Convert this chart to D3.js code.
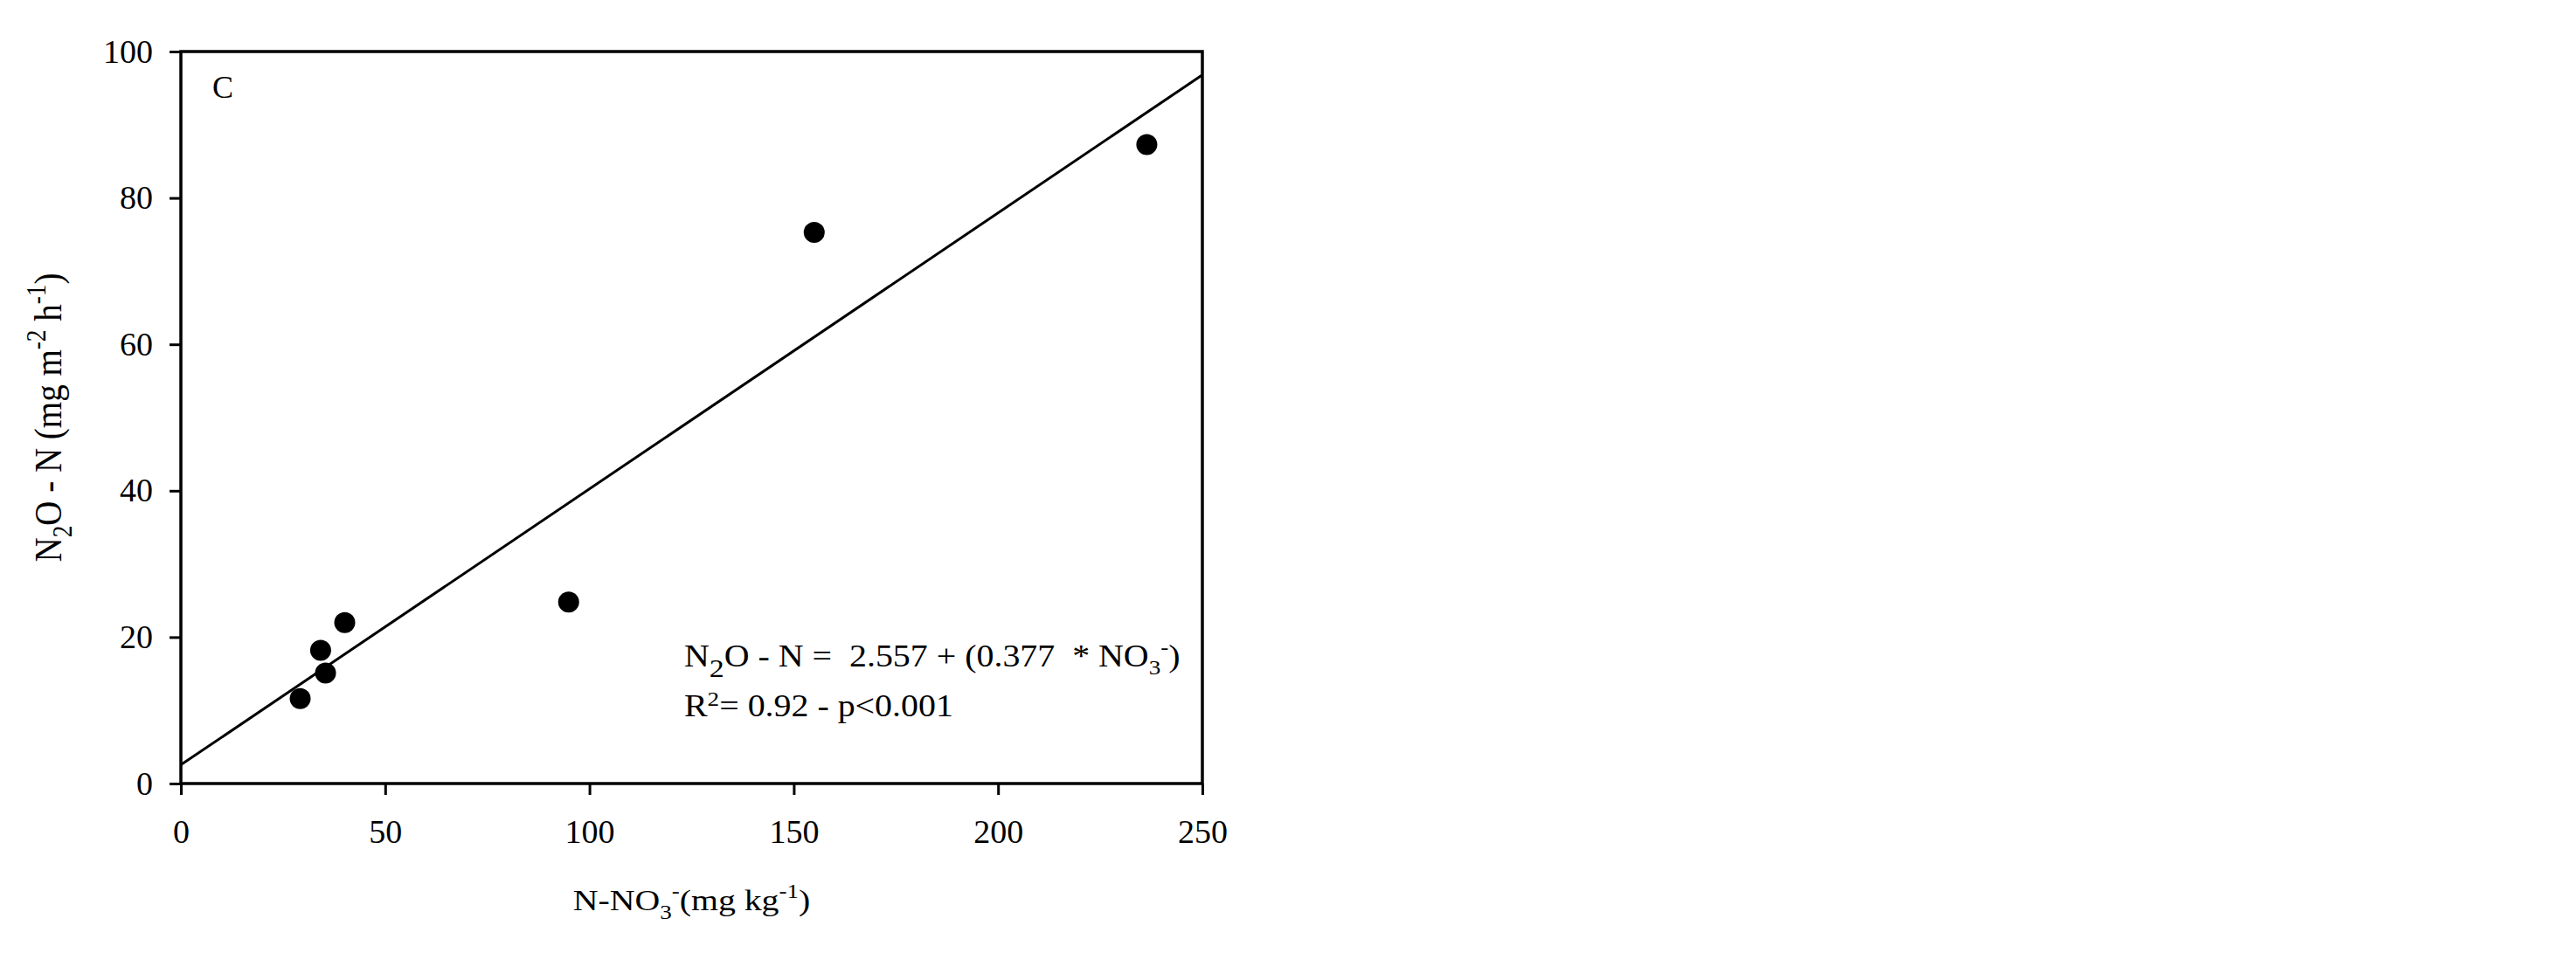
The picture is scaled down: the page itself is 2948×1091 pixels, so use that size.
<!DOCTYPE html>
<html>
<head>
<meta charset="utf-8">
<script src="https://cdn.jsdelivr.net/npm/d3@7"></script>
<style>
body { margin: 0; background: #fff; }
svg { display: block; }
.chart text { font-family: "Liberation Serif", "Times New Roman", serif; fill: #000; white-space: pre; }
.axis path, .axis line { stroke: #000; stroke-width: 3px; }
.axis text { font-size: 38px; }
</style>
</head>
<body>
<div id="chart"></div>
<script>
// N-NO3 (mg kg-1) vs N2O-N flux (mg m-2 h-1), panel C
var no3 = [29.2, 34.2, 35.4, 40.1, 94.9, 155.0, 236.4];
var n2o = [11.6, 18.2, 15.1, 22.0, 24.8, 75.3, 87.3];

var xTicks = [0, 50, 100, 150, 200, 250];
var yTicks = [0, 20, 40, 60, 80, 100];

// regression from the figure
var fitIntercept = 2.557;
var fitSlope = 0.377;

( function() {
  var W = 2948, H = 1091;
  var left = 207, right = 1376, top = 59, bottom = 897;

  var svg = d3.select( "#chart" ).append( "svg" )
              .attr( "class", "chart" )
              .attr( "width", W )
              .attr( "height", H );

  var x = d3.scaleLinear().domain( [0, 250] ).range( [left, right] );
  var y = d3.scaleLinear().domain( [0, 100] ).range( [bottom, top] );

  // axes, ticks outside
  svg.append( "g" )
     .attr( "class", "axis" )
     .attr( "transform", "translate(0," + bottom + ")" )
     .call( d3.axisBottom( x ).tickValues( xTicks ).tickSize( 13 ).tickPadding( 28 ).tickSizeOuter( 0 ) )
     .call( function( g ) { g.select( ".domain" ).remove(); } );

  svg.append( "g" )
     .attr( "class", "axis" )
     .attr( "transform", "translate(" + left + ",0)" )
     .call( d3.axisLeft( y ).tickValues( yTicks ).tickSize( 13 ).tickPadding( 19 ).tickSizeOuter( 0 ) )
     .call( function( g ) { g.select( ".domain" ).remove(); } );

  // frame
  svg.append( "rect" )
     .attr( "x", left ).attr( "y", top )
     .attr( "width", right - left ).attr( "height", bottom - top )
     .attr( "fill", "none" ).attr( "stroke", "#000" ).attr( "stroke-width", 3.5 );

  // fitted line
  var fitLine = d3.line()
                  .x( function( d ) { return x( d ); } )
                  .y( function( d ) { return y( fitIntercept + fitSlope * d ); } );

  svg.append( "path" )
     .datum( x.domain() )
     .attr( "d", fitLine )
     .attr( "fill", "none" )
     .attr( "stroke", "#000" )
     .attr( "stroke-width", 3 );

  // points
  svg.append( "g" ).selectAll( "circle" )
     .data( no3 )
     .join( "circle" )
     .attr( "cx", function( d ) { return x( d ); } )
     .attr( "cy", function( d, i ) { return y( n2o[i] ); } )
     .attr( "r", 12 )
     .attr( "fill", "#000" );

  // panel letter
  svg.append( "text" )
     .attr( "x", 243 ).attr( "y", 112 )
     .style( "font-size", "36px" )
     .text( "C" );

  // helper for text made of pieces with sub/superscripts
  function richText( parent, parts, size ) {
    var t = parent.append( "text" ).style( "font-size", size + "px" );
    var shift = 0;
    parts.forEach( function( p ) {
      var s = t.append( "tspan" ).text( p.t );
      var target = p.dy || 0;
      s.attr( "dy", target - shift );
      shift = target;
      if( p.s ) s.style( "font-size", ( size * p.s ) + "px" );
    } );
    return t;
  }

  // x title
  var xt = svg.append( "g" )
              .attr( "transform", "translate(" + ( ( left + right ) / 2 ) + ",1042) scale(1.17,1)" );
  richText( xt, [
    { t: "N-NO" },
    { t: "3", s: 0.68, dy: 10 },
    { t: "-", s: 0.68, dy: -14 },
    { t: "(mg kg" },
    { t: "-1", s: 0.68, dy: -14 },
    { t: ")" }
  ], 34 ).attr( "text-anchor", "middle" );

  // y title
  var yt = svg.append( "g" )
              .attr( "transform", "translate(70," + ( ( top + bottom ) / 2 ) + ") scale(1.15,1) rotate(-90)" );
  richText( yt, [
    { t: "N" },
    { t: "2", s: 0.7, dy: 10 },
    { t: "O - N (mg m" },
    { t: "-2", s: 0.7, dy: -16 },
    { t: " h" },
    { t: "-1", s: 0.7, dy: -16 },
    { t: ")" }
  ], 39 ).attr( "text-anchor", "middle" );

  // regression equation
  var eq1 = svg.append( "g" ).attr( "transform", "translate(783,763) scale(1.14,1)" );
  richText( eq1, [
    { t: "N" },
    { t: "2", s: 0.85, dy: 12 },
    { t: "O - N =  2.557 + (0.377  * NO" },
    { t: "3", s: 0.68, dy: 9 },
    { t: "-", s: 0.68, dy: -14 },
    { t: ")" }
  ], 35 );

  var eq2 = svg.append( "g" ).attr( "transform", "translate(783,820) scale(1.14,1)" );
  richText( eq2, [
    { t: "R" },
    { t: "2", s: 0.68, dy: -12 },
    { t: "= 0.92 - p<0.001" }
  ], 35 );
} )();
</script>
</body>
</html>
